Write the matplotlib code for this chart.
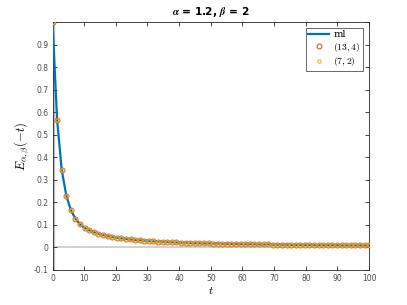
import matplotlib
matplotlib.use("Agg")
import matplotlib.pyplot as plt

# sample points (t) and values of E_{1.2,2}(-t)
t_vals = [0.0, 1.45, 2.9, 4.35, 5.8, 7.25, 8.7, 10.14, 11.59, 13.04,
          14.49, 15.94, 17.39, 18.84, 20.29, 21.74, 23.19, 24.64, 26.09, 27.54,
          28.99, 30.43, 31.88, 33.33, 34.78, 36.23, 37.68, 39.13, 40.58, 42.03,
          43.48, 44.93, 46.38, 47.83, 49.28, 50.72, 52.17, 53.62, 55.07, 56.52,
          57.97, 59.42, 60.87, 62.32, 63.77, 65.22, 66.67, 68.12, 69.57, 71.01,
          72.46, 73.91, 75.36, 76.81, 78.26, 79.71, 81.16, 82.61, 84.06, 85.51,
          86.96, 88.41, 89.86, 91.30, 92.75, 94.20, 95.65, 97.10, 98.55, 100.0]
ml_vals = [1.000, 0.567, 0.345, 0.230, 0.165, 0.127, 0.102, 0.087, 0.076, 0.068,
           0.061, 0.055, 0.050, 0.046, 0.043, 0.040, 0.038, 0.035, 0.033, 0.032,
           0.030, 0.029, 0.027, 0.026, 0.025, 0.024, 0.023, 0.022, 0.021, 0.021,
           0.020, 0.019, 0.019, 0.018, 0.018, 0.017, 0.017, 0.016, 0.016, 0.015,
           0.015, 0.015, 0.014, 0.014, 0.014, 0.013, 0.013, 0.013, 0.012, 0.012,
           0.012, 0.012, 0.011, 0.011, 0.011, 0.011, 0.011, 0.010, 0.010, 0.010,
           0.010, 0.010, 0.010, 0.009, 0.009, 0.009, 0.009, 0.009, 0.009, 0.009]
pade_13_4 = ml_vals
pade_7_2 = ml_vals

x_ticks = [0, 10, 20, 30, 40, 50, 60, 70, 80, 90, 100]
y_ticks = [-0.1, 0, 0.1, 0.2, 0.3, 0.4, 0.5, 0.6, 0.7, 0.8, 0.9, 1.0]
y_labels = ["-0.1", "0", "0.1", "0.2", "0.3", "0.4", "0.5", "0.6", "0.7", "0.8", "0.9", ""]

plt.rcParams["mathtext.fontset"] = "cm"
axis_col = "#262626"
tick_col = "#4d4d4d"

fig = plt.figure(figsize=(4.07, 3.05), dpi=100)
ax = fig.add_axes([0.129, 0.115, 0.778, 0.813])

ax.axhline(0, color="#c8c8c8", lw=1.2, zorder=1)
ax.axvline(0, color="#c0c0c0", lw=2.4, zorder=1)

ax.plot(t_vals, ml_vals, color="#0072BD", lw=1.6, label="ml", zorder=3)
ax.plot(t_vals, pade_13_4, ls="none", marker="o", ms=3.5, mfc="none",
        mec="#D95319", mew=0.75, label="$(13,4)$", zorder=4)
ax.plot(t_vals, pade_7_2, ls="none", marker="o", ms=2.5, mfc="none",
        mec="#EDB120", mew=0.75, label="$(7,2)$", zorder=5)

ax.set_xlim(0, 100)
ax.set_ylim(-0.1, 1.0)
ax.set_xticks(x_ticks)
ax.set_yticks(y_ticks)
ax.set_yticklabels(y_labels)
ax.tick_params(direction="in", length=3, width=0.6, labelsize=5.5,
               color=axis_col, labelcolor=tick_col, top=True, right=True, pad=3)
for s in ax.spines.values():
    s.set_color(axis_col)
    s.set_linewidth(0.6)

ax.set_title(r"$\boldsymbol{\alpha}$ = 1.2, $\boldsymbol{\beta}$ = 2", fontsize=7.6,
             fontweight="bold", color="#000000", pad=5)
ax.set_xlabel("$t$", fontsize=8.5, labelpad=1)
ax.set_ylabel(r"$E_{\alpha,\beta}(-t)$", fontsize=9, labelpad=2)

leg = ax.legend(loc="upper right", frameon=True, fancybox=False,
                borderpad=0.25, handlelength=2.2, handletextpad=0.4,
                labelspacing=0.15, borderaxespad=0.6,
                prop={"family": "serif", "size": 7})
leg.get_frame().set_edgecolor(axis_col)
leg.get_frame().set_linewidth(0.6)
leg.get_texts()[0].set_fontfamily("DejaVu Serif")

fig.savefig("out.png", dpi=100)
